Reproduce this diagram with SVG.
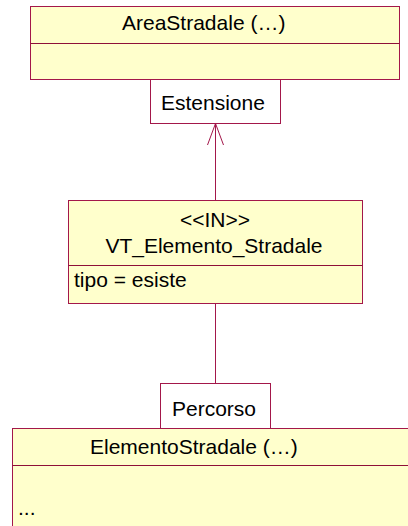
<svg xmlns="http://www.w3.org/2000/svg" width="408" height="526" viewBox="0 0 408 526">
<style>
.cls{fill:#FFFFCC;stroke:#A3174A;stroke-width:1}
.lbl{fill:#FFFFFF;stroke:#A3174A;stroke-width:1}
.div{stroke:#8E1038;stroke-width:1;fill:none}
.conn{stroke:#A3174A;stroke-width:1;fill:none}
text{font-family:"Liberation Sans",Arial,sans-serif;font-size:21px;fill:#000}
</style>
<rect width="408" height="526" fill="#FFFFFF"/>
<g id="connectors">
<line class="conn" x1="215.5" y1="123" x2="215.5" y2="200"/>
<polyline class="conn" points="207.5,145 215.5,123.5 223.5,145"/>
<line class="conn" x1="215.5" y1="303" x2="215.5" y2="383"/>
</g>
<g id="AreaStradale">
<rect class="cls" x="30.5" y="6.5" width="369" height="73"/>
<line class="div" x1="30.5" y1="43.5" x2="399.5" y2="43.5"/>
<text x="122" y="30">AreaStradale (…)</text>
</g>
<g id="Estensione">
<rect class="lbl" x="150.5" y="79.5" width="130" height="44"/>
<text x="161" y="110">Estensione</text>
</g>
<g id="VT_Elemento_Stradale">
<rect class="cls" x="68.5" y="200.5" width="294" height="103"/>
<line class="div" x1="68.5" y1="265.5" x2="362.5" y2="265.5"/>
<text x="215" y="227" text-anchor="middle">&lt;&lt;IN&gt;&gt;</text>
<text x="214" y="253" text-anchor="middle">VT_Elemento_Stradale</text>
<text x="74" y="287">tipo = esiste</text>
</g>
<g id="Percorso">
<rect class="lbl" x="160.5" y="383.5" width="110" height="45"/>
<text x="172" y="416">Percorso</text>
</g>
<g id="ElementoStradale">
<rect class="cls" x="12.5" y="428.5" width="410" height="110"/>
<line class="div" x1="12.5" y1="465.5" x2="410" y2="465.5"/>
<text x="90" y="454">ElementoStradale (…)</text>
<text x="18" y="515">...</text>
</g>
</svg>
